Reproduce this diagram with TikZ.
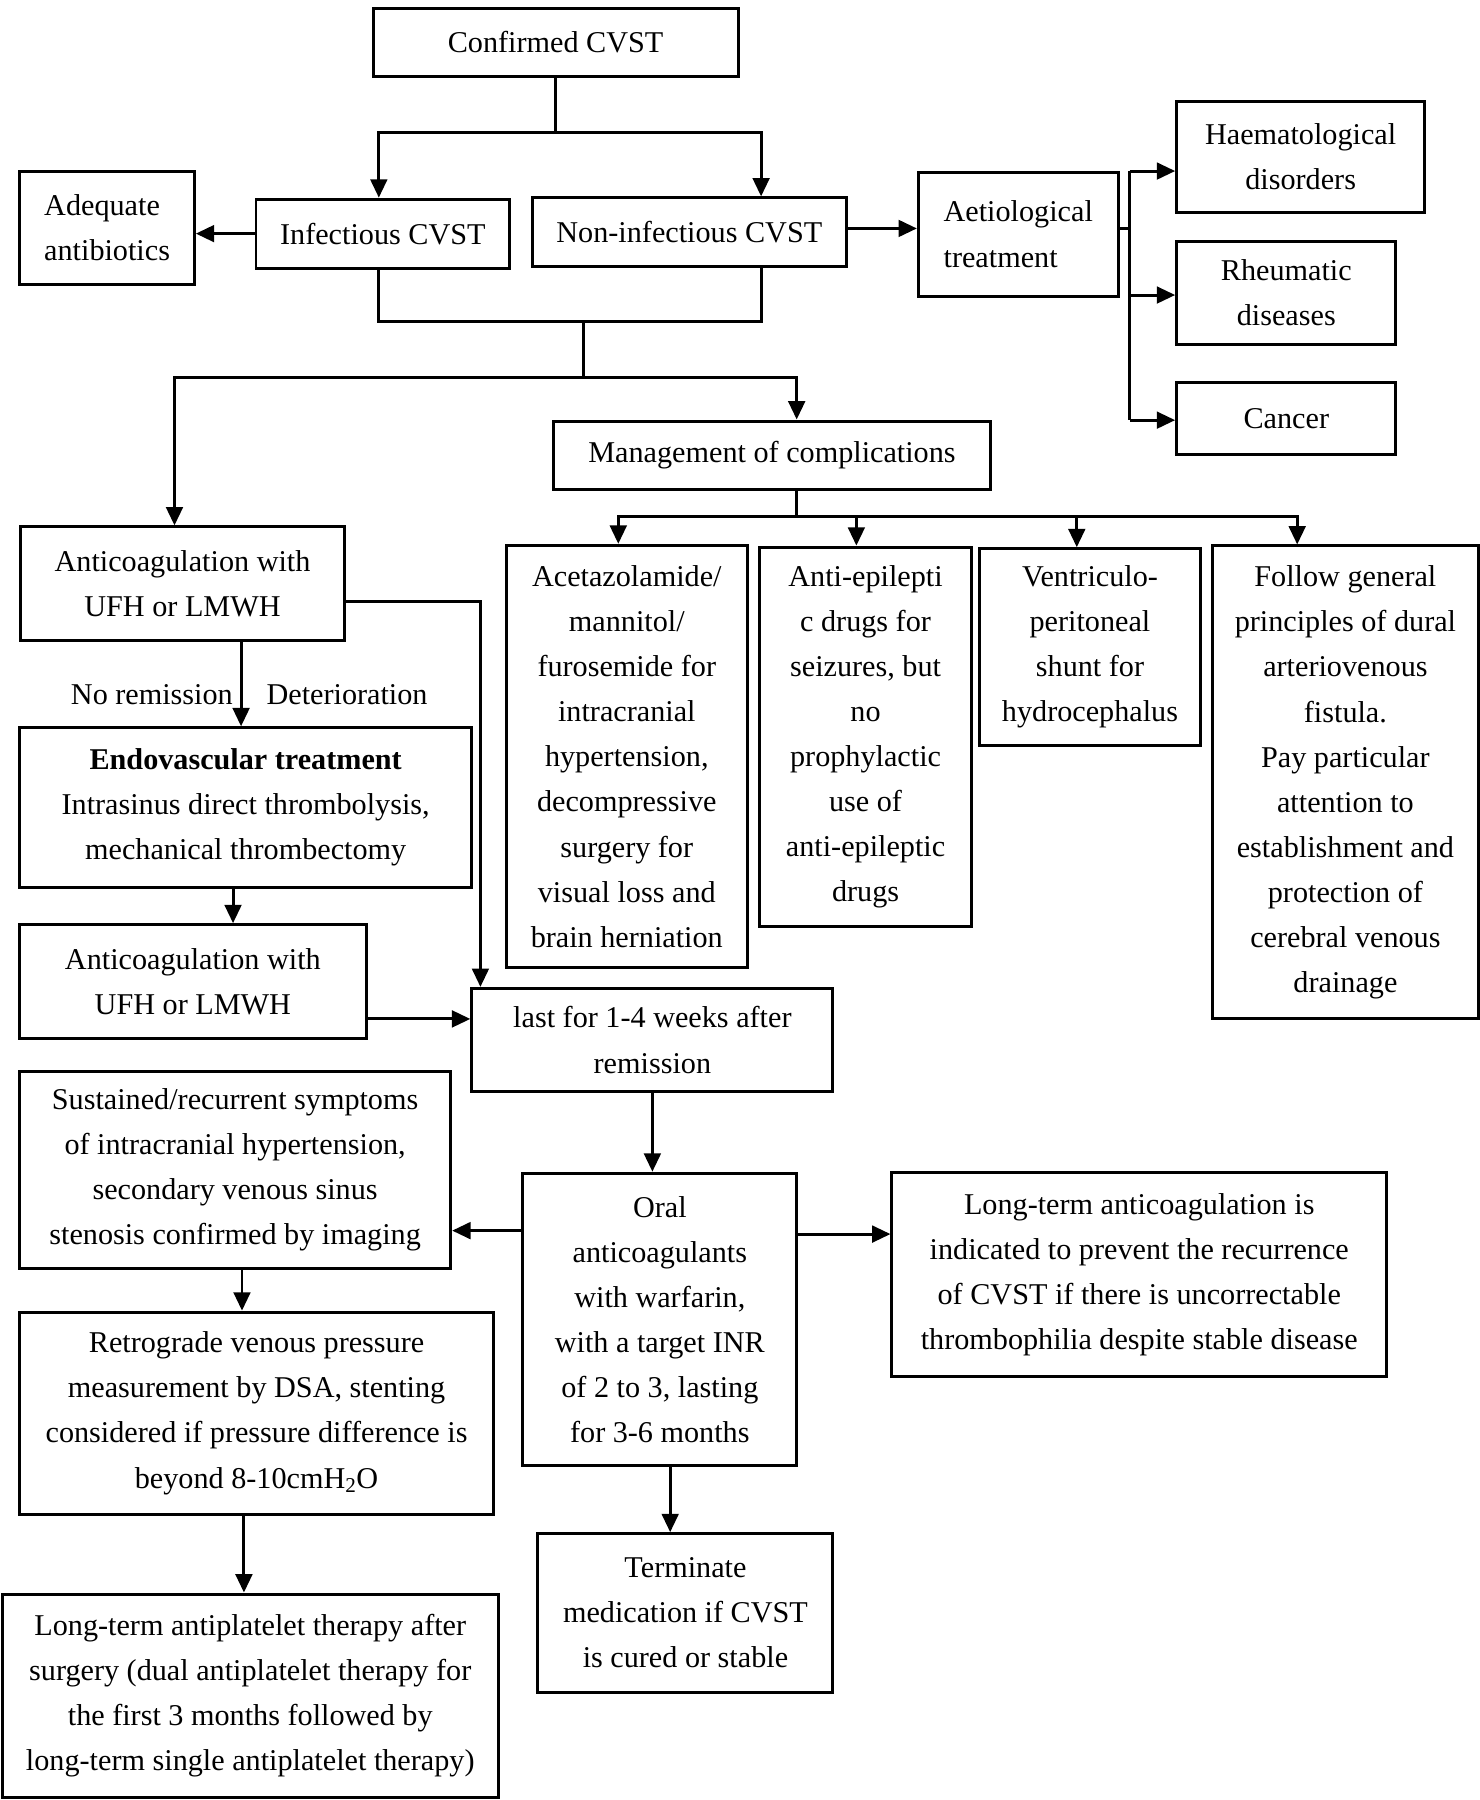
\documentclass[tikz,border=0pt]{standalone}
\usepackage{fontspec}
\setmainfont{Liberation Serif}
\usetikzlibrary{arrows.meta,calc}
\begin{document}
\begin{tikzpicture}[x=1pt,y=1pt,
  box/.style={draw, line width=2.6pt, inner sep=0pt, align=center,
    font=\fontsize{26.3}{39.3}\selectfont},
  lbl/.style={inner sep=0pt, font=\fontsize{26.3}{39.3}\selectfont},
  conn/.style={line width=2.6pt},
  arr/.style={line width=2.6pt, -{Triangle[length=16pt,width=14.5pt]}}]
\useasboundingbox (0,0) rectangle (1289,-1568);
% nodes
\node[box, minimum width=318, minimum height=60] (conf) at (484,-37) {Confirmed CVST};
\node[box, minimum width=221, minimum height=60] (inf) at (333.5,-203.5) {Infectious CVST};
\node[box, minimum width=274, minimum height=60] (noninf) at (600.5,-202.4) {Non-infectious CVST};
\node[box, align=left, minimum width=152, minimum height=99] (adeq) at (93.3,-198.7) {Adequate\\antibiotics};
\node[box, align=left, minimum width=174, minimum height=108] (aet) at (887,-204) {Aetiological\\treatment};
\node[box, minimum width=216, minimum height=97] (haem) at (1133,-136.5) {Haematological\\disorders};
\node[box, minimum width=191, minimum height=90] (rheu) at (1120.5,-255) {Rheumatic\\diseases};
\node[box, minimum width=191, minimum height=63] (canc) at (1120.5,-364.5) {Cancer};
\node[box, minimum width=381.5, minimum height=59.5] (mgmt) at (672.5,-396.5) {Management of complications};
\node[box, minimum width=283, minimum height=99] (ac1) at (159,-508.5) {Anticoagulation with\\UFH or LMWH};
\node[box, minimum width=394, minimum height=139] (endo) at (214,-703.5) {{\bfseries Endovascular treatment}\\Intrasinus direct thrombolysis,\\mechanical thrombectomy};
\node[box, minimum width=302, minimum height=99] (ac2) at (168,-855) {Anticoagulation with\\UFH or LMWH};
\node[box, minimum width=314.6, minimum height=90] (last) at (568.3,-906) {last for 1-4 weeks after\\remission};
\node[box, minimum width=210, minimum height=368] (acet) at (546,-659) {Acetazolamide/\\mannitol/\\furosemide for\\intracranial\\hypertension,\\decompressive\\surgery for\\visual loss and\\brain herniation};
\node[box, minimum width=184, minimum height=330.4] (aepi) at (754,-641.8) {Anti-epilepti\\c drugs for\\seizures, but\\no\\prophylactic\\use of\\anti-epileptic\\drugs};
\node[box, minimum width=193, minimum height=171] (vent) at (949.5,-563.5) {Ventriculo-\\peritoneal\\shunt for\\hydrocephalus};
\node[box, minimum width=232, minimum height=412] (foll) at (1172,-681.6) {Follow general\\principles of dural\\arteriovenous\\fistula.\\Pay particular\\attention to\\establishment and\\protection of\\cerebral venous\\drainage};
\node[box, minimum width=375.6, minimum height=171.6] (sust) at (204.8,-1019.2) {Sustained/recurrent symptoms\\of intracranial hypertension,\\secondary venous sinus\\stenosis confirmed by imaging};
\node[box, minimum width=413, minimum height=176] (retro) at (223.5,-1231) {Retrograde venous pressure\\measurement by DSA, stenting\\considered if pressure difference is\\beyond 8-10cmH\textsubscript{2}O};
\node[box, minimum width=432, minimum height=177.5] (antip) at (218,-1477.3) {Long-term antiplatelet therapy after\\surgery (dual antiplatelet therapy for\\the first 3 months followed by\\long-term single antiplatelet therapy)};
\node[box, minimum width=238.5, minimum height=255] (oral) at (574.8,-1149.5) {Oral\\anticoagulants\\with warfarin,\\with a target INR\\of 2 to 3, lasting\\for 3-6 months};
\node[box, minimum width=430.8, minimum height=177] (ltac) at (992.4,-1110.2) {Long-term anticoagulation is\\indicated to prevent the recurrence\\of CVST if there is uncorrectable\\thrombophilia despite stable disease};
\node[box, minimum width=257, minimum height=138] (term) at (597.1,-1405) {Terminate\\medication if CVST\\is cured or stable};
\node[lbl, anchor=east] (nr) at (203,-605) {No remission};
\node[lbl, anchor=west] (det) at (232,-605) {Deterioration};
% junctions
\coordinate (j1) at (484,-115);
\coordinate (j2) at (508,-280);
\coordinate (j3) at (508,-329);
\coordinate (j4) at (694,-450);
\coordinate (j5) at (984,-199);
\coordinate (j6) at (984,-149);
\coordinate (j7) at (984,-366);
\coordinate (j8) at (984,-257);
\coordinate (k1) at (418.5,-523.6);
% connectors
\draw[conn] (conf.south) -- (j1);
\draw[arr] (j1) -| ([xshift=-3.5]inf.north);
\draw[arr] (j1) -| ([xshift=62.5]noninf.north);
\draw[conn] ([xshift=-3.5]inf.south) |- (j2) -| ([xshift=62.5]noninf.south);
\draw[conn] (j2) -- (j3);
\draw[arr] (j3) -| ([xshift=-7]ac1.north);
\draw[arr] (j3) -| ([xshift=21.5]mgmt.north);
\draw[conn] ([xshift=21.5]mgmt.south) -- (j4);
\draw[arr] (j4) -| ([xshift=-7.4]acet.north);
\draw[arr] (j4) -| ([xshift=-8]aepi.north);
\draw[arr] (j4) -| ([xshift=-11.5]vent.north);
\draw[arr] (j4) -| ([xshift=-42]foll.north);
\draw[arr] (inf.west) -- (inf.west -| adeq.east);
\draw[arr] (noninf.east |- j5) -- (j5 -| aet.west);
\draw[conn] (aet.east |- j5) -- (j5);
\draw[conn] (j6) -- (j7);
\draw[arr] (j6) -- (j6 -| haem.west);
\draw[arr] (j8) -- (j8 -| rheu.west);
\draw[arr] (j7) -- (j7 -| canc.west);
\draw[arr] ([xshift=51]ac1.south) -- ([xshift=51]ac1.south |- endo.north);
\draw[arr] (ac1.east |- k1) -- (k1) -- (k1 |- last.north);
\draw[arr] ([xshift=-11]endo.south) -- ([xshift=-11]endo.south |- ac2.north);
\draw[arr] ([yshift=-32.6]ac2.east) -- ([yshift=-32.6]ac2.east -| last.west);
\draw[arr] (last.south) -- (last.south |- oral.north);
\draw[arr] ([yshift=77.5]oral.west) -- ([yshift=77.5]oral.west -| sust.east);
\draw[arr] ([yshift=74.5]oral.east) -- ([yshift=74.5]oral.east -| ltac.west);
\draw[arr] ([xshift=6]sust.south) -- ([xshift=6]sust.south |- retro.north);
\draw[arr] ([xshift=-11]retro.south) -- ([xshift=-11]retro.south |- antip.north);
\draw[arr] ([xshift=9]oral.south) -- ([xshift=9]oral.south |- term.north);
\end{tikzpicture}
\end{document}
